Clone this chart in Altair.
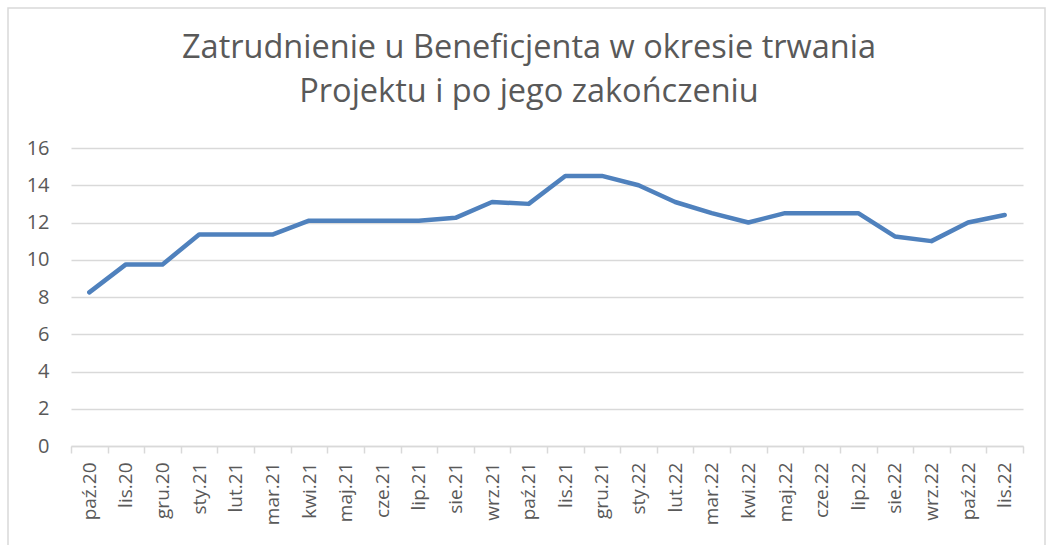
import altair as alt
import pandas as pd

months = ["paź.20", "lis.20", "gru.20", "sty.21", "lut.21", "mar.21", "kwi.21",
          "maj.21", "cze.21", "lip.21", "sie.21", "wrz.21", "paź.21", "lis.21",
          "gru.21", "sty.22", "lut.22", "mar.22", "kwi.22", "maj.22", "cze.22",
          "lip.22", "sie.22", "wrz.22", "paź.22", "lis.22"]
values = [8.25, 9.75, 9.75, 11.35, 11.35, 11.35, 12.1,
          12.1, 12.1, 12.1, 12.25, 13.1, 13.0, 14.5,
          14.5, 14.0, 13.1, 12.5, 12.0, 12.5, 12.5,
          12.5, 11.25, 11.0, 12.0, 12.4]
y_ticks = [0, 2, 4, 6, 8, 10, 12, 14, 16]
title_lines = ["Zatrudnienie u Beneficjenta w okresie trwania",
               "Projektu i po jego zakończeniu"]

df = pd.DataFrame({"month": months, "value": values})
title_df = pd.DataFrame({"t": [title_lines]})

FONT = "Open Sans"
GREY = "#595959"

border = alt.Chart(title_df).mark_rect(fill=None, stroke="#d9d9d9", strokeWidth=1.5).encode(
    x=alt.value(8 - 71), x2=alt.value(1045 - 71),
    y=alt.value(8 - 148), y2=alt.value(600 - 148),
)

title = alt.Chart(title_df).mark_text(
    font=FONT, fontSize=32.5, color=GREY, align="center", baseline="alphabetic",
    lineHeight=44,
).encode(text="t", x=alt.value(529 - 71), y=alt.value(58 - 148))

line = alt.Chart(df).mark_line(color="#4f81bd", strokeWidth=4.5, strokeCap="round",
                               strokeJoin="round").encode(
    x=alt.X("month:N", sort=months,
            scale=alt.Scale(type="band", paddingInner=0, paddingOuter=0),
            axis=alt.Axis(title=None, labelAngle=-90, labelAlign="right",
                          labelBaseline="middle", labelFontSize=19, labelColor=GREY,
                          labelFont=FONT, labelPadding=9, tickBand="extent",
                          ticks=True, tickSize=7, tickColor="#d9d9d9", tickWidth=1.5,
                          domain=True, domainColor="#d9d9d9", domainWidth=1.5,
                          grid=False)),
    y=alt.Y("value:Q", scale=alt.Scale(domain=[0, 16], nice=False),
            axis=alt.Axis(title=None, values=y_ticks, labelFontSize=20,
                          labelColor=GREY, labelFont=FONT, labelPadding=22,
                          ticks=False, domain=False, grid=True,
                          gridColor="#d9d9d9", gridWidth=1.5)),
)

chart = alt.layer(border, title, line).properties(
    width=952, height=298,
    padding={"left": 71, "top": 148, "right": 30, "bottom": 99},
    autosize=alt.AutoSizeParams(type="none"),
).configure_view(stroke=None)

chart.save("out.html", embed_options={"renderer": "svg", "actions": False})
